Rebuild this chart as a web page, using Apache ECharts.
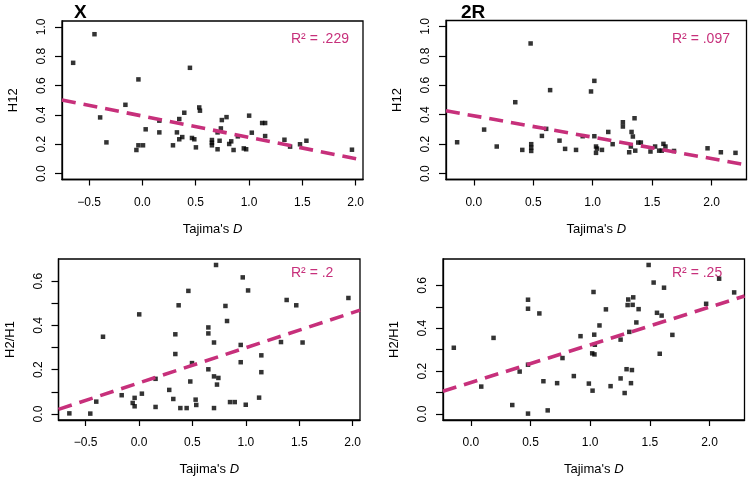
<!DOCTYPE html>
<html>
<head>
<meta charset="utf-8">
<script src="https://cdn.jsdelivr.net/npm/echarts@6/dist/echarts.min.js"></script>
<style>html,body{margin:0;padding:0;background:#fff}#c{width:752px;height:481px}</style>
</head>
<body>
<div id="c"></div>
<script>
// ---- Data ----
// Panel X / H12
const xX_H12 = [-0.649,-0.449,-0.396,-0.337,-0.159,-0.056,-0.037,-0.037,0.006,0.031,0.159,0.159,0.287,0.324,0.346,0.346,0.374,0.393,0.446,0.465,0.487,0.502,0.533,0.540,0.652,0.652,0.652,0.705,0.705,0.724,0.736,0.745,0.789,0.814,0.833,0.855,0.895,0.951,0.973,1.001,1.026,1.123,1.151,1.151,1.332,1.385,1.478,1.538,1.965];
const yX_H12 = [0.755,0.950,0.383,0.213,0.469,0.161,0.193,0.642,0.193,0.302,0.361,0.281,0.193,0.281,0.372,0.234,0.249,0.415,0.721,0.243,0.234,0.179,0.451,0.429,0.229,0.193,0.211,0.166,0.281,0.224,0.308,0.365,0.385,0.202,0.220,0.161,0.254,0.172,0.166,0.395,0.279,0.345,0.345,0.256,0.231,0.184,0.200,0.224,0.163];
// Panel 2R / H12
const x2R_H12 = [-0.140,0.087,0.193,0.349,0.408,0.478,0.483,0.483,0.483,0.573,0.609,0.642,0.721,0.768,0.860,0.916,0.986,1.014,1.014,1.028,1.028,1.036,1.078,1.131,1.168,1.254,1.254,1.307,1.321,1.327,1.338,1.352,1.358,1.383,1.405,1.486,1.525,1.559,1.581,1.595,1.612,1.684,1.966,2.078,2.201];
const y2R_H12 = [0.213,0.299,0.184,0.485,0.161,0.884,0.154,0.177,0.200,0.256,0.304,0.567,0.224,0.168,0.161,0.254,0.558,0.630,0.254,0.184,0.141,0.170,0.161,0.283,0.200,0.349,0.320,0.145,0.184,0.283,0.252,0.376,0.156,0.211,0.211,0.150,0.184,0.156,0.156,0.202,0.184,0.154,0.172,0.145,0.141];
// Panel X / H2/H1
const xX_H2H1 = [-0.652,-0.456,-0.400,-0.337,-0.162,-0.059,-0.041,-0.041,0.002,0.027,0.155,0.155,0.283,0.321,0.340,0.340,0.371,0.387,0.462,0.446,0.480,0.496,0.530,0.536,0.649,0.649,0.649,0.702,0.702,0.702,0.721,0.730,0.743,0.809,0.824,0.852,0.896,0.952,0.952,0.971,0.999,1.021,1.124,1.145,1.145,1.329,1.382,1.472,1.531,1.960];
const yX_H2H1 = [0.003,0.002,0.056,0.349,0.085,0.050,0.073,0.035,0.450,0.092,0.159,0.032,0.109,0.068,0.360,0.271,0.491,0.027,0.556,0.027,0.147,0.230,0.065,0.041,0.391,0.364,0.202,0.323,0.170,0.027,0.673,0.133,0.163,0.488,0.420,0.054,0.054,0.312,0.234,0.617,0.042,0.558,0.074,0.265,0.189,0.325,0.515,0.491,0.323,0.524];
// Panel 2R / H2/H1
const x2R_H2H1 = [-0.143,0.087,0.190,0.347,0.409,0.479,0.479,0.479,0.479,0.574,0.608,0.644,0.723,0.768,0.863,0.919,0.989,1.017,1.020,1.028,1.034,1.036,1.039,1.078,1.132,1.171,1.255,1.255,1.289,1.305,1.314,1.319,1.328,1.342,1.350,1.356,1.361,1.387,1.406,1.490,1.532,1.560,1.583,1.599,1.619,1.689,1.972,2.081,2.207];
const y2R_H2H1 = [0.309,0.128,0.355,0.042,0.198,0.533,0.491,0.002,0.230,0.469,0.153,0.017,0.144,0.261,0.177,0.363,0.142,0.283,0.109,0.569,0.370,0.278,0.323,0.413,0.488,0.130,0.347,0.166,0.098,0.209,0.508,0.534,0.383,0.144,0.205,0.509,0.544,0.427,0.489,0.695,0.613,0.472,0.281,0.459,0.589,0.369,0.514,0.631,0.567];

// Fitted (dashed) lines: endpoints
const fitX_X = [-0.754, 2.069];
const fitY_X_H12 = [0.502, 0.092];
const fitY_X_H2H1 = [0.021, 0.469];
const fit2R_X = [-0.234, 2.294];
const fitY_2R_H12 = [0.427, 0.059];
const fitY_2R_H2H1 = [0.106, 0.550];

// Tick values / labels
const xTicksX = [-0.5, 0.0, 0.5, 1.0, 1.5, 2.0];
const xTicks2R = [0.0, 0.5, 1.0, 1.5, 2.0];
const yTicksH12 = [0.0, 0.2, 0.4, 0.6, 0.8, 1.0];
const yTicksH2H1 = [0.0, 0.1, 0.2, 0.3, 0.4, 0.5, 0.6];
const yLabelsH2H1 = [0.0, 0.2, 0.4, 0.6];

const panelTitles = ['X', '2R'];
const yNames = ['H12', 'H2/H1'];
const r2Texts = ['R² = .229', 'R² = .097', 'R² = .2', 'R² = .25'];

// ---- Layout ----
const FONT = "'Liberation Sans', Arial, Helvetica, sans-serif";
const MAG = '#C7307B';
const panels = [
  {grid:{left:62, top:21, width:301, height:158.5}, xr:[-0.7535,2.0685], yr:[-0.04,1.04], xs:xX_H12, ys:yX_H12, fx:fitX_X, fy:fitY_X_H12, xt:xTicksX, yt:yTicksH12, yl:yTicksH12, yname:yNames[0], r2:r2Texts[0], r2pos:[291,32]},
  {grid:{left:446, top:20.5, width:300.5, height:159}, xr:[-0.2336,2.2936], yr:[-0.04,1.04], xs:x2R_H12, ys:y2R_H12, fx:fit2R_X, fy:fitY_2R_H12, xt:xTicks2R, yt:yTicksH12, yl:yTicksH12, yname:yNames[0], r2:r2Texts[1], r2pos:[672,32]},
  {grid:{left:58.5, top:259, width:301.5, height:161}, xr:[-0.7535,2.0685], yr:[-0.0269,0.700], xs:xX_H2H1, ys:yX_H2H1, fx:fitX_X, fy:fitY_X_H2H1, xt:xTicksX, yt:yTicksH2H1, yl:yLabelsH2H1, yname:yNames[1], r2:r2Texts[2], r2pos:[291,266]},
  {grid:{left:443, top:259, width:301.5, height:161}, xr:[-0.2336,2.2936], yr:[-0.0278,0.7228], xs:x2R_H2H1, ys:y2R_H2H1, fx:fit2R_X, fy:fitY_2R_H2H1, xt:xTicks2R, yt:yTicksH2H1, yl:yLabelsH2H1, yname:yNames[1], r2:r2Texts[3], r2pos:[672,266]}
];

const grids = [], xAxes = [], yAxes = [], series = [], graphics = [];
panels.forEach((p, i) => {
  grids.push(Object.assign({show:true, borderColor:'#000', borderWidth:1.3, backgroundColor:'transparent'}, p.grid));
  xAxes.push({
    type:'value', gridIndex:i, min:p.xr[0], max:p.xr[1], position:'bottom',
    axisLine:{show:true, onZero:false, lineStyle:{color:'#000', width:1.3}},
    axisTick:{show:true, length:6, inside:false, customValues:p.xt, lineStyle:{color:'#000', width:1.2}},
    axisLabel:{show:true, customValues:p.xt, margin:17, color:'#000', fontFamily:FONT, fontSize:12,
      formatter:v => (v < 0 ? '\u2212' : '') + Math.abs(v).toFixed(1)},
    splitLine:{show:false},
    name:"Tajima's {i|D}", nameLocation:'middle', nameGap:43,
    nameTextStyle:{color:'#000', fontFamily:FONT, fontSize:13, rich:{i:{fontStyle:'italic', fontFamily:FONT, fontSize:13, color:'#000'}}}
  });
  yAxes.push({
    type:'value', gridIndex:i, min:p.yr[0], max:p.yr[1], position:'left',
    axisLine:{show:true, onZero:false, lineStyle:{color:'#000', width:1.3}},
    axisTick:{show:true, length:7, inside:false, customValues:p.yt, lineStyle:{color:'#000', width:1.2}},
    axisLabel:{show:true, customValues:p.yl, rotate:90, margin:14, color:'#000', fontFamily:FONT, fontSize:12,
      formatter:v => v.toFixed(1)},
    splitLine:{show:false},
    name:p.yname, nameLocation:'middle', nameGap:42, nameRotate:90,
    nameTextStyle:{color:'#000', fontFamily:FONT, fontSize:13}
  });
  series.push({
    type:'scatter', xAxisIndex:i, yAxisIndex:i, symbol:'rect', symbolSize:4.5,
    itemStyle:{color:'#000'}, data:p.xs.map((x, k) => [x, p.ys[k]]), z:2, silent:true
  });
  series.push({
    type:'line', xAxisIndex:i, yAxisIndex:i, showSymbol:false, symbol:'none', clip:true,
    lineStyle:{color:MAG, width:3.6, type:[14, 8], cap:'butt'},
    data:p.fx.map((x, k) => [x, p.fy[k]]), z:3, silent:true
  });
  graphics.push({type:'text', left:p.r2pos[0], top:p.r2pos[1],
    style:{text:p.r2, fill:MAG, font:'14px ' + FONT}});
});
graphics.push({type:'text', left:74, top:3, style:{text:panelTitles[0], fill:'#000', font:'bold 19px ' + FONT}});
graphics.push({type:'text', left:461, top:3, style:{text:panelTitles[1], fill:'#000', font:'bold 19px ' + FONT}});

const chart = echarts.init(document.getElementById('c'), null, {renderer:'canvas'});
chart.setOption({
  animation:false,
  backgroundColor:'#fff',
  grid:grids, xAxis:xAxes, yAxis:yAxes, series:series, graphic:graphics
});
</script>
</body>
</html>
